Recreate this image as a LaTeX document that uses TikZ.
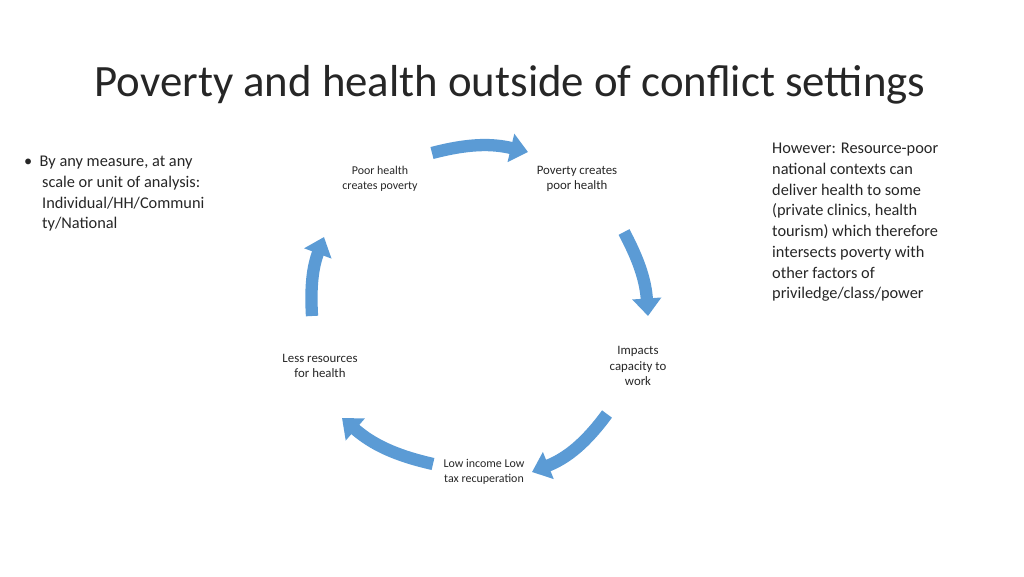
\documentclass[tikz,border=0pt]{standalone}
\usepackage{fontspec}
\setmainfont{Carlito}
\usetikzlibrary{arrows.meta, positioning}
\definecolor{cyclecolor}{RGB}{91,155,213}
\definecolor{textcolor}{RGB}{38,38,38}
\tikzset{
    stage/.style={align=center, font=\fontsize{6.8}{8.2}\selectfont, text=textcolor},
    cyclearrow/.style={draw=cyclecolor, line width=7pt, -{Triangle[length=10pt, width=16pt]}},
    bodytext/.style={align=left, anchor=north west, font=\fontsize{9.3}{11.8}\selectfont, text=textcolor}
}
\begin{document}
\begin{tikzpicture}[x=0.02cm, y=-0.02cm]
    \useasboundingbox (0,0) rectangle (1024,576);
    % title
    \node[font=\fontsize{25.5}{28}\selectfont, text=textcolor] (title) at (510,85) {Poverty and health outside of conflict settings};

    % side texts
    \node[bodytext] (left) at (18,150) {\textbullet\ \ By any measure, at any\\
        \hspace{1.1em}scale or unit of analysis:\\
        \hspace{1.1em}Individual/HH/Communi\\
        \hspace{1.1em}ty/National};
    \node[bodytext] (right) at (766,137) {However: Resource-poor\\national contexts can\\deliver health to some\\(private clinics, health\\tourism) which therefore\\intersects poverty with\\other factors of\\priviledge/class/power};

    % cycle stages
    \node[stage] (poorhealth) at (380,179) {Poor health\\creates poverty};
    \node[stage, font=\fontsize{7.3}{8.8}\selectfont] (poverty) at (577,179) {Poverty creates\\poor health};
    \node[stage, font=\fontsize{7.3}{8.8}\selectfont] (impacts) at (638,366) {Impacts\\capacity to\\work};
    \node[stage] (lowincome) at (484,472) {Low income Low\\tax recuperation};
    \node[stage, font=\fontsize{7.3}{8.8}\selectfont] (lessres) at (320,366) {Less resources\\for health};

    % arrow ends
    \coordinate (a1) at (432,153);
    \coordinate (b1) at (528,152);
    \coordinate (a2) at (624,232);
    \coordinate (b2) at (648,316);
    \coordinate (a3) at (607,414);
    \coordinate (b3) at (532,472);
    \coordinate (a4) at (433,464);
    \coordinate (b4) at (342,418);
    \coordinate (a5) at (312,316);
    \coordinate (b5) at (324,237);

    \draw[cyclearrow] (a1) to[bend left=14] (b1);
    \draw[cyclearrow] (a2) to[bend left=12] (b2);
    \draw[cyclearrow] (a3) to[bend left=16] (b3);
    \draw[cyclearrow] (a4) to[bend left=14] (b4);
    \draw[cyclearrow] (a5) to[bend left=12] (b5);
\end{tikzpicture}
\end{document}
